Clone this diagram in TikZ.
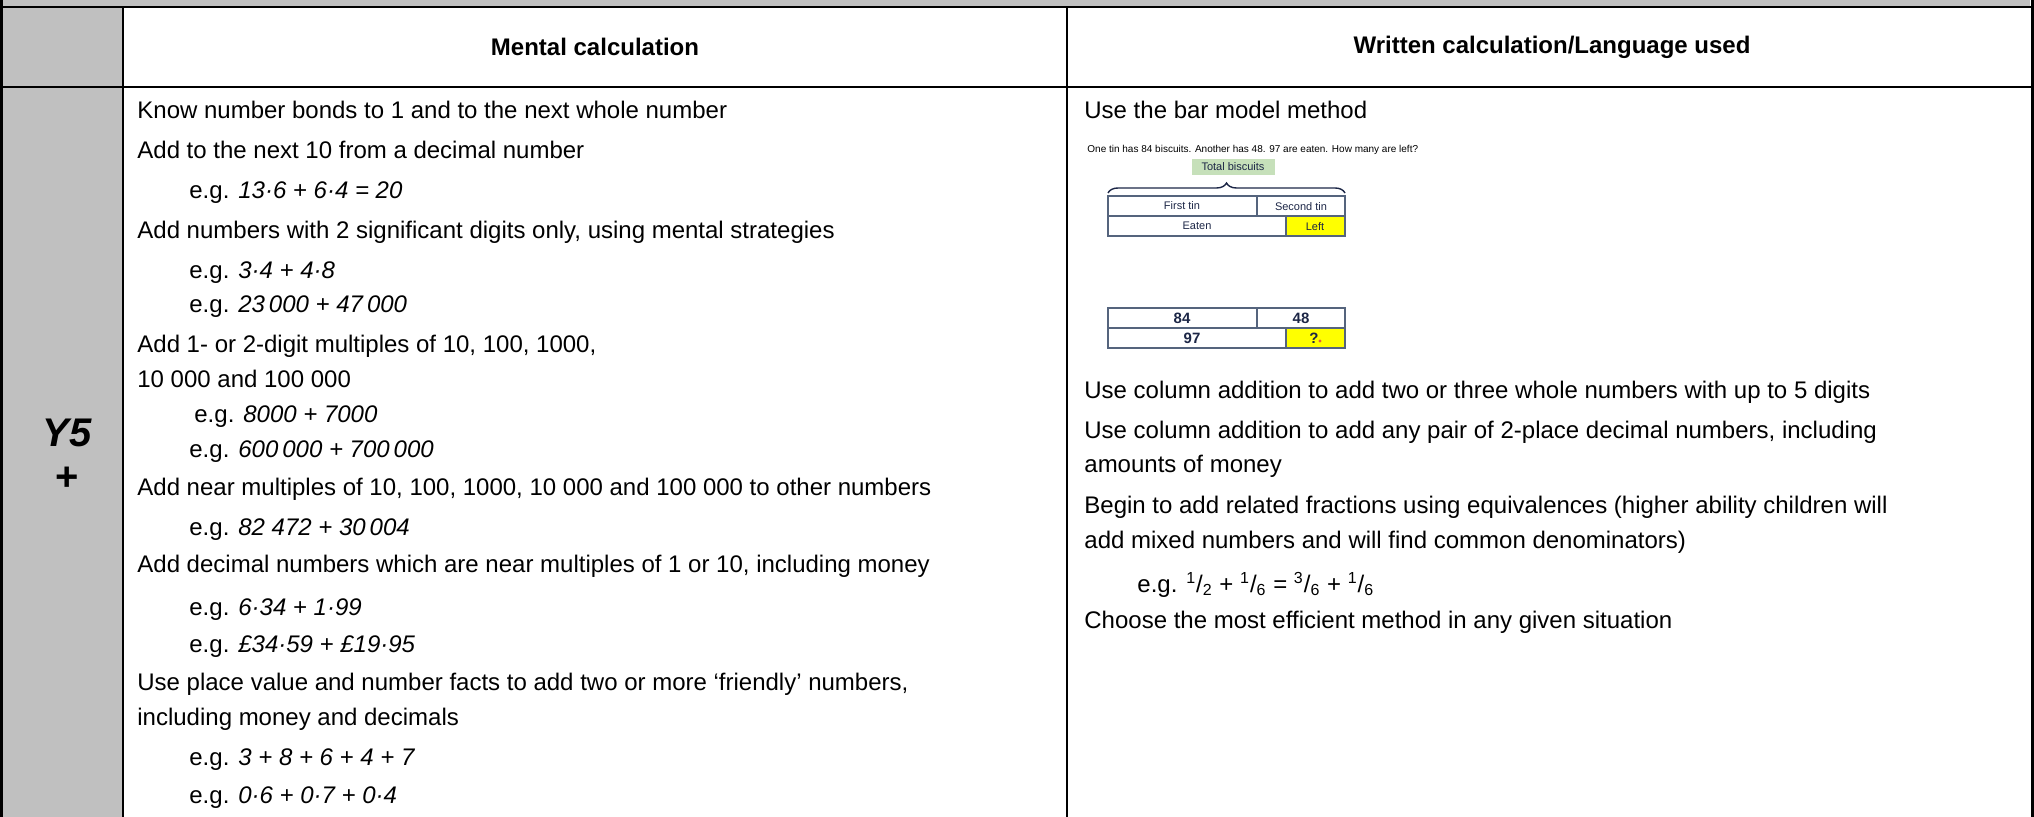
\documentclass[tikz,border=0pt]{standalone}
\usepackage{fontspec}
\setmainfont{Liberation Sans}
\usetikzlibrary{decorations.pathreplacing}
\definecolor{cellgray}{RGB}{192,192,192}
\definecolor{barnavy}{RGB}{28,38,70}
\definecolor{barline}{RGB}{85,100,125}
\definecolor{tgreen}{RGB}{198,224,186}
\definecolor{lyellow}{RGB}{255,255,0}
\definecolor{dotred}{RGB}{230,90,60}
\newcommand{\fr}[2]{\textsuperscript{#1}/\textsubscript{#2}}
\begin{document}
\begin{tikzpicture}[x=0.5pt,y=-0.5pt,
  txt/.style={anchor=mid west,inner sep=0pt,font=\fontsize{12}{14}\selectfont},
  head/.style={anchor=center,inner sep=0pt,font=\fontsize{12}{14}\selectfont\bfseries},
  yr/.style={anchor=center,inner sep=0pt,font=\fontsize{20}{22}\selectfont\bfseries},
  grid/.style={line width=1pt,black},
  outer/.style={line width=1.5pt,black},
  barcell/.style={draw=barline,line width=0.6pt},
  bartxt/.style={anchor=center,inner sep=0pt,text=barnavy,font=\fontsize{5.5}{6}\selectfont},
  barnum/.style={anchor=center,inner sep=0pt,text=barnavy,font=\fontsize{7.5}{8}\selectfont\bfseries}]
\useasboundingbox (0,0) rectangle (2034,817);
% backgrounds
\fill[cellgray] (0,0) rectangle (2030,7);
\fill[cellgray] (0,7) rectangle (123,817);
% grid lines
\draw[grid] (0,7) -- (2034,7);
\draw[grid] (0,87) -- (2034,87);
\draw[grid] (123,7) -- (123,817);
\draw[grid] (1067,7) -- (1067,817);
\draw[outer] (1.5,0) -- (1.5,817);
\draw[outer] (2032,0) -- (2032,817);
% header
\node[head] (hm) at (595,47) {Mental calculation};
\node[head] (hw) at (1552,47) {Written calculation/Language used};
% year label
\node[yr] (y5) at (67,433) {\itshape Y5};
\node[yr] (plus) at (67,479) {+};
% left column
\node[txt] (l1) at (137,113) {Know number bonds to 1 and to the next whole number};
\node[txt] (l2) at (137,153) {Add to the next 10 from a decimal number};
\node[txt] (l3) at (189,193) {e.g. \textit{13·6 + 6·4 = 20}};
\node[txt] (l4) at (137,233) {Add numbers with 2 significant digits only, using mental strategies};
\node[txt] (l5) at (189,273) {e.g. \textit{3·4 + 4·8}};
\node[txt] (l6) at (189,307) {e.g. \textit{23\,000 + 47\,000}};
\node[txt] (l7) at (137,347) {Add 1- or 2-digit multiples of 10, 100, 1000,};
\node[txt] (l8) at (137,382) {10 000 and 100 000};
\node[txt] (l9) at (194,417) {e.g. \textit{8000 + 7000}};
\node[txt] (l10) at (189,452) {e.g. \textit{600\,000 + 700\,000}};
\node[txt] (l11) at (137,490) {Add near multiples of 10, 100, 1000, 10 000 and 100 000 to other numbers};
\node[txt] (l12) at (189,530) {e.g. \textit{82 472 + 30\,004}};
\node[txt] (l13) at (137,567) {Add decimal numbers which are near multiples of 1 or 10, including money};
\node[txt] (l14) at (189,610) {e.g. \textit{6·34 + 1·99}};
\node[txt] (l15) at (189,647) {e.g. \textit{£34·59 + £19·95}};
\node[txt] (l16) at (137,685) {Use place value and number facts to add two or more ‘friendly’ numbers,};
\node[txt] (l17) at (137,720) {including money and decimals};
\node[txt] (l18) at (189,760) {e.g. \textit{3 + 8 + 6 + 4 + 7}};
\node[txt] (l19) at (189,798) {e.g. \textit{0·6 + 0·7 + 0·4}};
% right column
\node[txt] (r1) at (1084,113) {Use the bar model method};
\node[anchor=mid west,inner sep=0pt,text=black,font=\fontsize{5}{6}\selectfont] (q) at (1087,147) {One tin has 84 biscuits. Another has 48. 97 are eaten. How many are left?};
\node[draw=none,fill=tgreen,minimum width=41.5pt,minimum height=8pt,inner sep=0pt,text=barnavy,font=\fontsize{5.5}{6}\selectfont] (tot) at (1233,167) {Total biscuits};
\coordinate (bl) at (1108,193);
\coordinate (br) at (1345,193);
\draw[barnavy,line width=0.7pt,decorate,decoration={brace,amplitude=5pt}] (bl) -- (br);
% top bar
\fill[lyellow] (1286,216) rectangle (1345,236);
\draw[barcell] (1108,196) rectangle (1345,236);
\draw[barcell] (1108,216) -- (1345,216);
\draw[barcell] (1257,196) -- (1257,216);
\draw[barcell] (1286,216) -- (1286,236);
\node[bartxt] (ft) at (1182,206) {First tin};
\node[bartxt] (st) at (1301,206.5) {Second tin};
\node[bartxt] (ea) at (1197,226) {Eaten};
\node[bartxt] (le) at (1315,226.5) {Left};
% bottom bar
\fill[lyellow] (1286,328) rectangle (1345,348);
\draw[barcell] (1108,308) rectangle (1345,348);
\draw[barcell] (1108,328) -- (1345,328);
\draw[barcell] (1257,308) -- (1257,328);
\draw[barcell] (1286,328) -- (1286,348);
\node[barnum] (n84) at (1182,318) {84};
\node[barnum] (n48) at (1301,318) {48};
\node[barnum] (n97) at (1192,338) {97};
\node[barnum] (nq) at (1314,338) {?};
\fill[dotred] (1320,341) circle (1.6);
\node[txt] (r2) at (1084,393) {Use column addition to add two or three whole numbers with up to 5 digits};
\node[txt] (r3) at (1084,433) {Use column addition to add any pair of 2-place decimal numbers, including};
\node[txt] (r4) at (1084,467) {amounts of money};
\node[txt] (r5) at (1084,508) {Begin to add related fractions using equivalences (higher ability children will};
\node[txt] (r6) at (1084,543) {add mixed numbers and will find common denominators)};
\node[txt] (r7) at (1137,587) {e.g. \fr{1}{2} + \fr{1}{6} = \fr{3}{6} + \fr{1}{6}};
\node[txt] (r8) at (1084,623) {Choose the most efficient method in any given situation};
\end{tikzpicture}
\end{document}
